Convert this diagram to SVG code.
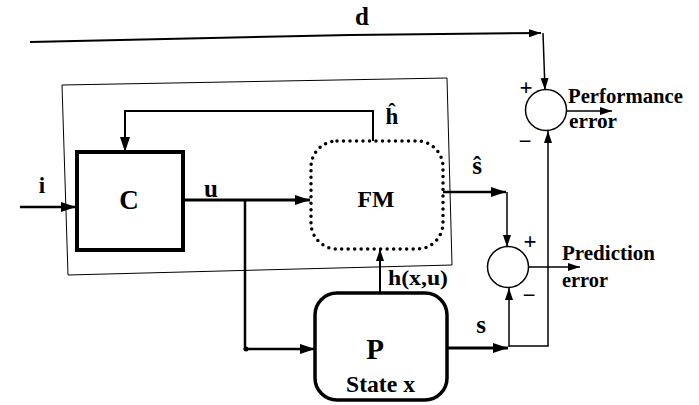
<svg xmlns="http://www.w3.org/2000/svg" width="699" height="405" viewBox="0 0 699 405">
<style>
  .t{font-family:"Liberation Serif","Times New Roman",serif;font-weight:bold;fill:#000}
  .ln{fill:none;stroke:#000;stroke-linejoin:miter}
  .box{fill:#fff;stroke:#000}
</style>
<defs>
  <marker id="ah" markerUnits="userSpaceOnUse" markerWidth="16" markerHeight="12" refX="15" refY="5" orient="auto">
    <path d="M0,0 L15,5 L0,10 z" fill="#000"/>
  </marker>
  <marker id="as" markerUnits="userSpaceOnUse" markerWidth="12" markerHeight="10" refX="12" refY="4" orient="auto">
    <path d="M0,0 L12,4 L0,8 z" fill="#000"/>
  </marker>
</defs>
<rect width="699" height="405" fill="#fff"/>

<g id="frame">
  <polygon points="62,85 447,78 452,265 68,275" fill="none" stroke="#000" stroke-width="1"/>
</g>

<g id="connectors">
  <path class="ln" d="M30,42 L350,35 L541,33" stroke-width="2" marker-end="url(#as)"/>
  <path class="ln" d="M543,33 L545,90" stroke-width="1.5" marker-end="url(#as)"/>
  <path class="ln" d="M20,207 H76" stroke-width="2.5" marker-end="url(#ah)"/>
  <path class="ln" d="M373,141 V111 H125 V152" stroke-width="2" marker-end="url(#ah)"/>
  <path class="ln" d="M183,200 H310" stroke-width="3" marker-end="url(#ah)"/>
  <path class="ln" d="M245,200 V349 H315" stroke-width="2.5" marker-end="url(#ah)"/>
  <circle cx="246" cy="349" r="2.5" fill="#000"/>
  <path class="ln" d="M442,192 H506" stroke-width="2.5" marker-end="url(#ah)"/>
  <path class="ln" d="M507,192 V247" stroke-width="1.5" marker-end="url(#as)"/>
  <path class="ln" d="M380,293 V249" stroke-width="2" marker-end="url(#as)"/>
  <path class="ln" d="M447,348 H508" stroke-width="3" marker-end="url(#ah)"/>
  <path class="ln" d="M509,347 V288" stroke-width="1.5" marker-end="url(#as)"/>
  <path class="ln" d="M509,346 H548 V131" stroke-width="1.5" marker-end="url(#as)"/>
  <path class="ln" d="M529,267 H580" stroke-width="1.5" marker-end="url(#as)"/>
  <path class="ln" d="M567,111 H612" stroke-width="1.5" marker-end="url(#as)"/>
</g>

<g id="labels">
  <text class="t" x="362" y="25" font-size="25" text-anchor="middle">d</text>
  <text class="t" x="42" y="193" font-size="23" text-anchor="middle">i</text>
  <text class="t" x="211" y="197" font-size="25" text-anchor="middle">u</text>
  <text class="t" x="392" y="124" font-size="23" text-anchor="middle">ĥ</text>
  <text class="t" x="477" y="174" font-size="25" text-anchor="middle">ŝ</text>
  <text class="t" x="388" y="285" font-size="22" textLength="60" lengthAdjust="spacingAndGlyphs">h(x,u)</text>
  <text class="t" x="481" y="333" font-size="25" text-anchor="middle">s</text>
</g>

<g id="C">
  <rect class="box" x="77" y="152" width="106" height="98" stroke-width="4"/>
  <text class="t" x="129" y="209" font-size="27" text-anchor="middle">C</text>
</g>

<g id="FM">
  <rect x="311" y="141" width="132" height="108" rx="26" fill="#fff" stroke="#000" stroke-width="3.5" stroke-dasharray="0 6.5" stroke-linecap="round"/>
  <text class="t" x="376" y="207" font-size="24" textLength="37" lengthAdjust="spacingAndGlyphs" text-anchor="middle">FM</text>
</g>

<g id="P">
  <rect class="box" x="315" y="293" width="132" height="107" rx="22" stroke-width="3.5"/>
  <text class="t" x="375" y="359" font-size="29" text-anchor="middle">P</text>
  <text class="t" x="346" y="392" font-size="23" textLength="69" lengthAdjust="spacingAndGlyphs">State x</text>
</g>

<g id="perfSum">
  <circle cx="546" cy="110" r="20.5" fill="#fff" stroke="#000" stroke-width="1.5"/>
  <text class="t" x="526" y="95" font-size="23" text-anchor="middle">+</text>
  <text class="t" x="525" y="149" font-size="23" text-anchor="middle">−</text>
  <text class="t" x="568" y="103" font-size="21" textLength="115" lengthAdjust="spacingAndGlyphs">Performance</text>
  <text class="t" x="569" y="128" font-size="21" textLength="48" lengthAdjust="spacingAndGlyphs">error</text>
</g>

<g id="predSum">
  <circle cx="508" cy="267" r="20.5" fill="#fff" stroke="#000" stroke-width="1.5"/>
  <text class="t" x="530" y="249" font-size="23" text-anchor="middle">+</text>
  <text class="t" x="529" y="303" font-size="23" text-anchor="middle">−</text>
  <text class="t" x="562" y="260" font-size="21" textLength="93" lengthAdjust="spacingAndGlyphs">Prediction</text>
  <text class="t" x="562" y="287" font-size="21" textLength="46" lengthAdjust="spacingAndGlyphs">error</text>
</g>
</svg>
